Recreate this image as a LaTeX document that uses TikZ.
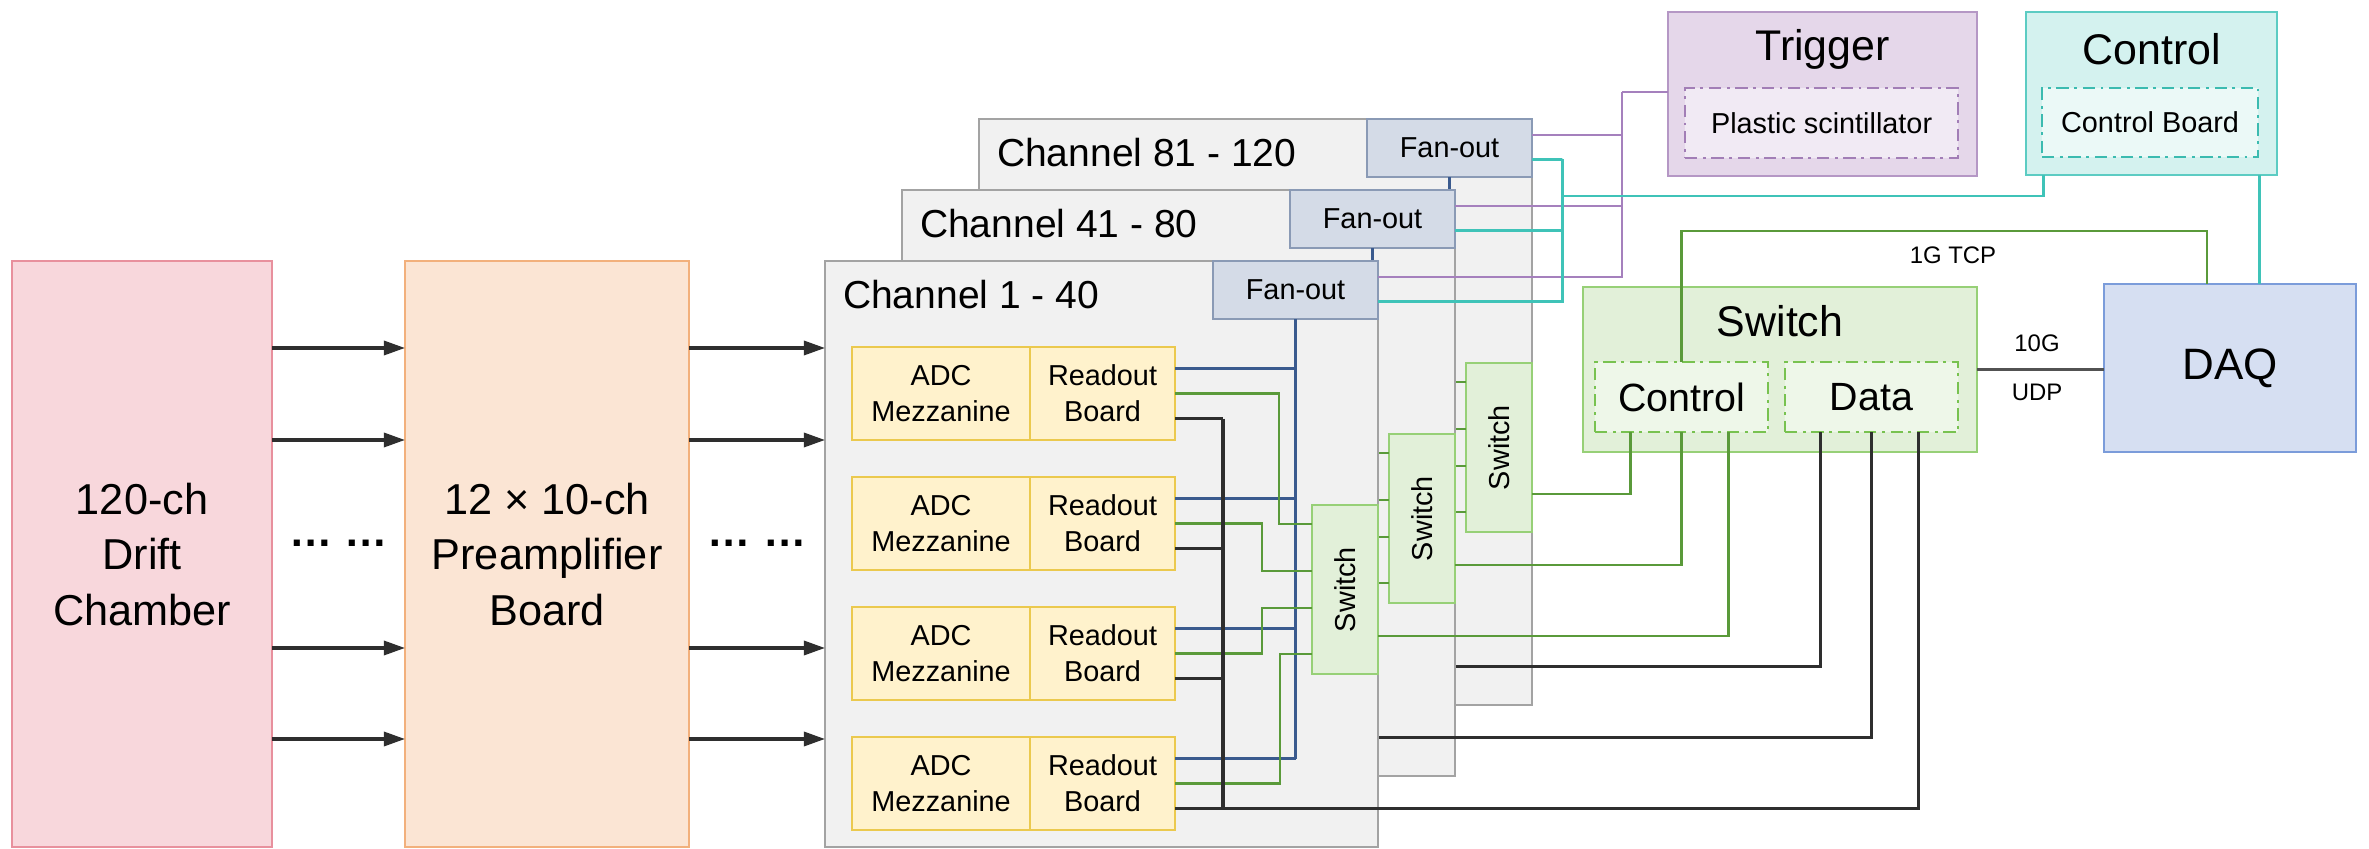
\documentclass[tikz,border=0pt]{standalone}
\usepackage{fontspec}
\setmainfont{Liberation Sans}
\usepackage{graphicx}
\usepackage{tikz}
\usetikzlibrary{arrows.meta,positioning,calc}
\definecolor{chamberfill}{HTML}{F8D7DC}
\definecolor{chamberline}{HTML}{E8909D}
\definecolor{prefill}{HTML}{FBE5D4}
\definecolor{preline}{HTML}{F2B07C}
\definecolor{panelfill}{HTML}{F1F1F1}
\definecolor{panelline}{HTML}{A3A3A3}
\definecolor{fanfill}{HTML}{D4DBE7}
\definecolor{fanline}{HTML}{8A9AB5}
\definecolor{adcfill}{HTML}{FFF2CC}
\definecolor{adcline}{HTML}{EBC94E}
\definecolor{swfill}{HTML}{E2F0D9}
\definecolor{swline}{HTML}{97D077}
\definecolor{swinner}{HTML}{EEF7E9}
\definecolor{swdash}{HTML}{78C250}
\definecolor{trigfill}{HTML}{E5D7EA}
\definecolor{trigline}{HTML}{B597C5}
\definecolor{triginner}{HTML}{F1EAF4}
\definecolor{trigdash}{HTML}{A27EB6}
\definecolor{ctrlfill}{HTML}{D4F2EF}
\definecolor{ctrlline}{HTML}{5CCCC3}
\definecolor{ctrlinner}{HTML}{EBF9F7}
\definecolor{ctrldash}{HTML}{3BBBB0}
\definecolor{daqfill}{HTML}{D6DFF2}
\definecolor{daqline}{HTML}{7B9CDA}
\definecolor{bluewire}{HTML}{3A5A8E}
\definecolor{greenwire}{HTML}{5A9A3A}
\definecolor{blackwire}{HTML}{2E2E2E}
\definecolor{purplewire}{HTML}{A580BD}
\definecolor{tealwire}{HTML}{3FC3B8}

\begin{document}
\begin{tikzpicture}[x=0.01cm,y=-0.01cm,every node/.style={font=\fontsize{8.2}{10.2}\selectfont,align=center,inner sep=0pt,outer sep=0pt},box/.style={draw,line width=0.6pt,anchor=north west},dashbox/.style={box,line width=0.7pt,dash pattern=on 3.5pt off 1.6pt on 0.8pt off 1.6pt},big/.style={font=\fontsize{12.3}{15.8}\selectfont},title/.style={font=\fontsize{12.2}{14}\selectfont},mid/.style={font=\fontsize{11.2}{13}\selectfont},tiny/.style={font=\fontsize{6.8}{8}\selectfont},wire/.style={line width=0.75pt},bline/.style={wire,bluewire},gline/.style={wire,greenwire},kline/.style={wire,blackwire,line width=0.95pt},pline/.style={wire,purplewire},tline/.style={wire,tealwire,line width=0.85pt},arr/.style={-{Triangle[length=6pt,width=4pt]},line width=0.9pt,blackwire}]
\useasboundingbox (0,0) rectangle (2369,849);
\node[box,big,draw=chamberline,fill=chamberfill,minimum width=2.6cm,minimum height=5.86cm] (dc) at (12,261) {120-ch\\Drift\\Chamber};
\node[box,big,draw=preline,fill=prefill,minimum width=2.84cm,minimum height=5.86cm] (pre) at (405,261) {12 × 10-ch\\Preamplifier\\Board};
\node[box,draw=trigline,fill=trigfill,minimum width=3.09cm,minimum height=1.64cm] (trig) at (1668,12) {};
\node[title] (trigt) at ($(trig.north)+(0,37)$) {Trigger};
\node[dashbox,draw=trigdash,fill=triginner,minimum width=2.73cm,minimum height=0.7cm] (scint) at (1685,88) {Plastic scintillator};
\node[box,draw=ctrlline,fill=ctrlfill,minimum width=2.51cm,minimum height=1.63cm] (ctrl) at (2026,12) {};
\node[title] (ctrlt) at ($(ctrl.north)+(0,37)$) {Control};
\node[dashbox,draw=ctrldash,fill=ctrlinner,minimum width=2.16cm,minimum height=0.69cm] (cboard) at (2042,88) {Control Board};
\node[box,draw=swline,fill=swfill,minimum width=3.94cm,minimum height=1.65cm] (swbox) at (1583,287) {};
\node[title] (swt) at ($(swbox.north)+(0,34)$) {Switch};
\node[dashbox,mid,draw=swdash,fill=swinner,minimum width=1.73cm,minimum height=0.7cm] (swctrl) at (1595,362) {Control};
\node[dashbox,mid,draw=swdash,fill=swinner,minimum width=1.73cm,minimum height=0.7cm] (swdata) at (1785,362) {Data};
\node[box,font=\fontsize{12.5}{14}\selectfont,draw=daqline,fill=daqfill,minimum width=2.52cm,minimum height=1.68cm] (daq) at (2104,284) {DAQ};
\coordinate (pjoin) at (1622,92);
\coordinate (tjoin) at (1562,159);
\coordinate (tbus) at (1562,196);
\coordinate (tcp) at (2207,231);
\foreach \k/\lab/\dx in {2/Channel 81 - 120/-0.51,1/Channel 41 - 80/0,0/Channel 1 - 40/0.47}{
\ifnum\k=0 \def\adct{ADC\\Mezzanine}\def\rbt{Readout\\Board}\else\def\adct{}\def\rbt{}\fi
\begin{scope}[shift={(77*\k,-71*\k)}]
\node[box,draw=panelline,fill=panelfill,minimum width=5.53cm,minimum height=5.86cm] (ch\k) at (825,261) {};
\node[anchor=west,font=\fontsize{11.1}{13}\selectfont] (lab\k) at (843,295) {\lab};
\node[box,draw=fanline,fill=fanfill,minimum width=1.65cm,minimum height=0.58cm] (fan\k) at (1213,261) {Fan-out};
\node[box,draw=swline,fill=swfill,minimum width=0.66cm,minimum height=1.69cm] (sw\k) at (1312,505) {\rotatebox{90}{Switch}};
\foreach \r in {1,...,4}{
\node[box,draw=adcline,fill=adcfill,minimum width=1.78cm,minimum height=0.93cm] (adc\k\r) at (852,{217+130*\r}) {\adct};
\node[box,draw=adcline,fill=adcfill,minimum width=1.45cm,minimum height=0.93cm] (rb\k\r) at (1030,{217+130*\r}) {\rbt};
\draw[bline] ([yshift=0.25cm]rb\k\r.east) -- ([yshift=0.25cm]rb\k\r.east -| fan\k.south);
}
\draw[bline] (fan\k.south) -- ([yshift=0.25cm]rb\k4.east -| fan\k.south);
\draw[gline] (rb\k1.east) -- ++(104,0) |- ([yshift=-0.19cm]sw\k.north west);
\draw[gline] (rb\k2.east) -- ++(87,0) |- ([yshift=-0.66cm]sw\k.north west);
\draw[gline] (rb\k3.east) -- ++(87,0) |- ([yshift=-1.03cm]sw\k.north west);
\draw[gline] (rb\k4.east) -- ++(105,0) |- ([yshift=-1.49cm]sw\k.north west);
\foreach \r in {1,2,3} \draw[kline] ([yshift=-0.25cm]rb\k\r.east) -- ++(48,0);
\draw[kline] ([yshift=-0.25cm,xshift=0.48cm]rb\k1.east) -- ([yshift=-0.25cm,xshift=0.48cm]rb\k4.east);
\draw[kline] ([yshift=-0.25cm]rb\k4.east) -| ([xshift=\dx cm]swdata.south);
\draw[gline] ([yshift=-0.465cm]sw\k.east) -| ([xshift=\dx cm]swctrl.south);
\draw[pline] ([yshift=0.13cm]fan\k.east) -| (pjoin);
\draw[tline] ([yshift=-0.11cm]fan\k.east) -| (tjoin);
\end{scope}
}
\draw[pline] (pjoin) -- (pjoin -| trig.west);
\draw[tline] ([xshift=0.17cm]ctrl.south west) |- (tbus);
\draw[tline] ([xshift=-0.18cm]ctrl.south east) -- ([xshift=-0.18cm]ctrl.south east |- daq.north);
\draw[gline] (swctrl.north) |- (tcp) -- (tcp |- daq.north);
\draw[line width=1.1pt,draw=black!68] (swbox.east) -- (swbox.east -| daq.west);
\node[tiny] (tcplab) at (1953,255) {1G TCP};
\node[tiny] (l10g) at (2037,343) {10G};
\node[tiny] (ludp) at (2037,392) {UDP};
\foreach \y in {348,440,648,739}{
\draw[arr] (dc.east |- 0,\y) -- (pre.west |- 0,\y);
\draw[arr] (pre.east |- 0,\y) -- (ch0.west |- 0,\y);
}
\node[big] (dots1) at ($(dc.east)!0.5!(pre.west)+(0,-11)$) {\textbf{… …}};
\node[big] (dots2) at ($(pre.east)!0.5!(ch0.west)+(0,-11)$) {\textbf{… …}};
\end{tikzpicture}
\end{document}
